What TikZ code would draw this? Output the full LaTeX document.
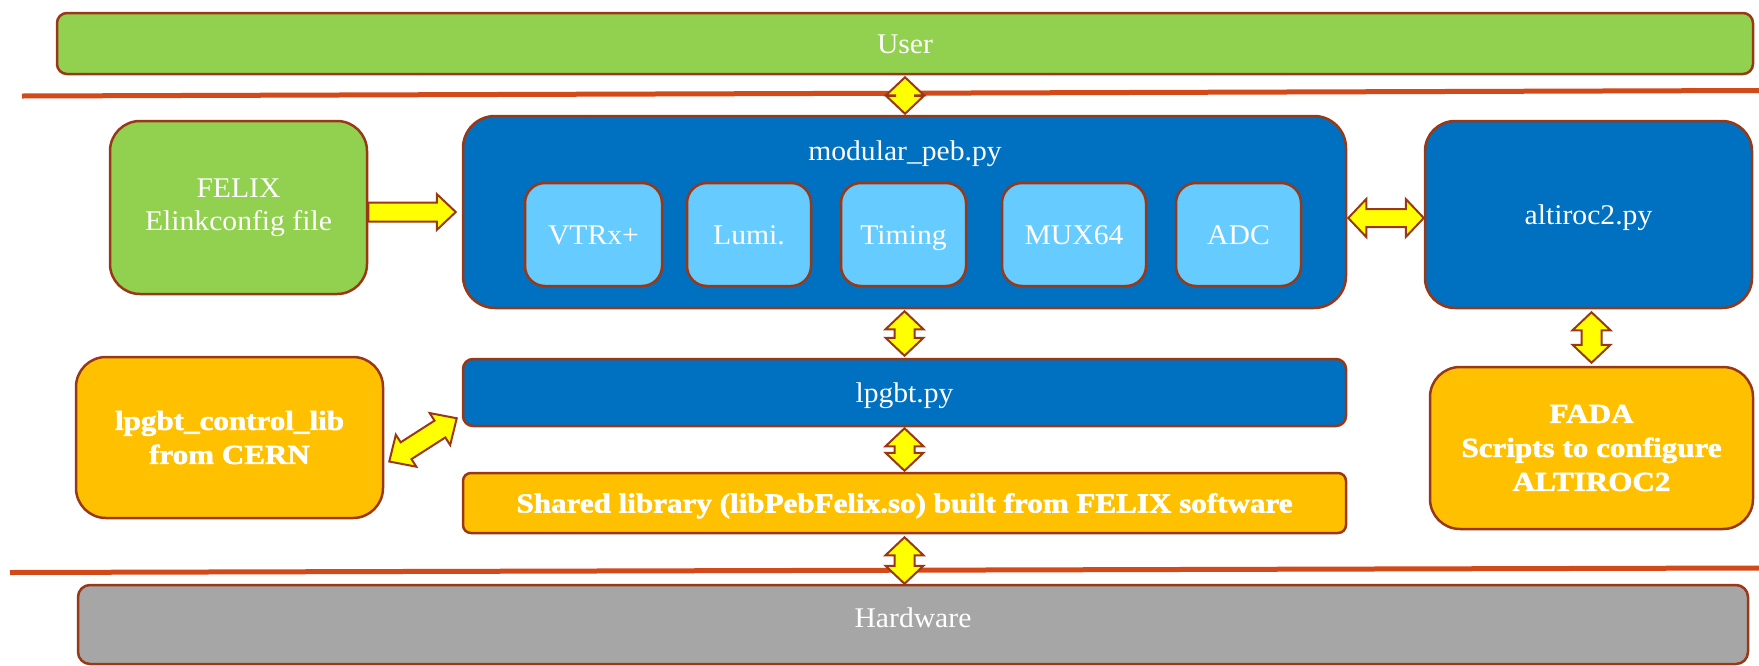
\documentclass[tikz,border=0pt]{standalone}
\usepackage{fontspec}
\setmainfont{Liberation Serif}[FakeStretch=1.04, BoldFeatures={FakeStretch=1.13, FakeBold=2}]
\usetikzlibrary{calc}
\definecolor{bord}{HTML}{993816}
\definecolor{sepc}{HTML}{D24A1A}
\definecolor{ugreen}{HTML}{92D050}
\definecolor{dblue}{HTML}{0070C0}
\definecolor{lblue}{HTML}{66CCFF}
\definecolor{gold}{HTML}{FFC000}
\definecolor{hgrey}{HTML}{A6A6A6}
\definecolor{ayel}{HTML}{FFFF00}
\tikzset{
  box/.style={draw=bord, line width=2.5pt, inner sep=0pt, text=white, align=center,
              font=\fontsize{28.5}{32.5}\selectfont},
  oneline/.style={text height=19pt, text depth=0pt},
  bbox/.style={box, font=\fontsize{27.5}{34}\selectfont\bfseries},
  inbox/.style={box, oneline, fill=lblue, rounded corners=20pt, minimum height=103pt},
  plain/.style={inner sep=0pt, oneline, text=white, font=\fontsize{28.5}{32.5}\selectfont},
  blockarr/.style={draw=bord, fill=ayel, line width=2pt, line join=miter},
  sepline/.style={draw=sepc, line width=5pt},
}
\newcommand\dblarrow[5]{%
  \draw[blockarr] let \p1=(#1), \p2=(#2), \n1={atan2(\y2-\y1,\x2-\x1)} in
  (\p1) -- ($(\p1)+(\n1:#3)+(\n1+90:#4)$) -- ($(\p1)+(\n1:#3)+(\n1+90:#5)$)
  -- ($(\p2)+(\n1+180:#3)+(\n1+90:#5)$) -- ($(\p2)+(\n1+180:#3)+(\n1+90:#4)$)
  -- (\p2) -- ($(\p2)+(\n1+180:#3)+(\n1-90:#4)$) -- ($(\p2)+(\n1+180:#3)+(\n1-90:#5)$)
  -- ($(\p1)+(\n1:#3)+(\n1-90:#5)$) -- ($(\p1)+(\n1:#3)+(\n1-90:#4)$) -- cycle;}
\newcommand\sglarrow[5]{%
  \draw[blockarr] let \p1=(#1), \p2=(#2), \n1={atan2(\y2-\y1,\x2-\x1)} in
  ($(\p1)+(\n1+90:#5)$) -- ($(\p2)+(\n1+180:#3)+(\n1+90:#5)$)
  -- ($(\p2)+(\n1+180:#3)+(\n1+90:#4)$) -- (\p2)
  -- ($(\p2)+(\n1+180:#3)+(\n1-90:#4)$) -- ($(\p2)+(\n1+180:#3)+(\n1-90:#5)$)
  -- ($(\p1)+(\n1-90:#5)$) -- cycle;}
\begin{document}
\begin{tikzpicture}[x=1pt, y=-1pt]
\useasboundingbox (0,0) rectangle (1759,665);
% separator lines
\draw[sepline] (22,96) -- (1759,90.5);
\draw[sepline] (10,572.5) -- (1759,568);
% boxes
\node[box, oneline, fill=ugreen, rounded corners=10pt, minimum width=1696pt, minimum height=61pt]
      (user) at (905,43.5) {User};
\node[box, fill=ugreen, rounded corners=30pt, minimum width=257pt, minimum height=173pt]
      (felix) at (238.5,207.5) {FELIX\\Elinkconfig file};
\node[box, fill=dblue, rounded corners=32pt, minimum width=883pt, minimum height=192pt]
      (mod) at (904.5,212) {};
\node[plain] (modt) at (905,151) {modular\_peb.py};
\node[inbox, minimum width=137pt] (vtrx) at (593.5,234.5) {VTRx+};
\node[inbox, minimum width=124pt] (lumi) at (749,234.5) {Lumi.};
\node[inbox, minimum width=125pt] (timing) at (903.5,234.5) {Timing};
\node[inbox, minimum width=144pt] (mux) at (1074,234.5) {MUX64};
\node[inbox, minimum width=125pt] (adc) at (1238.5,234.5) {ADC};
\node[box, oneline, fill=dblue, rounded corners=30pt, minimum width=327pt, minimum height=187pt]
      (alti) at (1588.5,214.5) {altiroc2.py};
\node[box, oneline, fill=dblue, rounded corners=10pt, minimum width=883pt, minimum height=67pt]
      (lpgbt) at (904.5,392.5) {lpgbt.py};
\node[bbox, fill=gold, rounded corners=30pt, minimum width=307pt, minimum height=161pt]
      (ctrl) at (229.5,437.5) {\raisebox{-4pt}{lpgbt\_control\_lib}\\\raisebox{-4pt}{from CERN}};
\node[bbox, oneline, fill=gold, rounded corners=8pt, minimum width=883pt, minimum height=60pt]
      (shared) at (904.5,503) {Shared library (libPebFelix.so) built from FELIX software};
\node[bbox, fill=gold, rounded corners=30pt, minimum width=323pt, minimum height=162pt]
      (fada) at (1591.5,448) {FADA\\Scripts to configure\\ALTIROC2};
\node[box, oneline, fill=hgrey, rounded corners=12pt, minimum width=1670pt, minimum height=79pt]
      (hw) at (913,624.5) {\raisebox{6.5pt}{Hardware}};
% block arrows
\sglarrow{felix.east |- mod.west}{$(mod.west)+(-6,0)$}{19pt}{18pt}{9.5pt}
\dblarrow{$(user.south)+(0,2)$}{$(user.south |- mod.north)+(0,-1)$}{18pt}{19pt}{10pt}
\dblarrow{$(mod.south)+(0,2)$}{$(mod.south |- lpgbt.north)+(0,-2)$}{18pt}{19pt}{10pt}
\dblarrow{$(lpgbt.south)+(0,1)$}{$(lpgbt.south |- shared.north)+(0,-1)$}{18pt}{19pt}{10pt}
\dblarrow{$(shared.south)+(0,3)$}{shared.south |- hw.north}{18pt}{19pt}{10pt}
\dblarrow{$(mod.east)+(1,6)$}{$(alti.west)+(0,3.5)$}{18pt}{19pt}{9pt}
\dblarrow{$(fada.north |- alti.south)+(0,3)$}{$(fada.north)+(0,-3)$}{18pt}{19pt}{10pt}
\dblarrow{$(ctrl.east)+(5,24)$}{$(lpgbt.south west)+(-5,-9)$}{20pt}{19pt}{10pt}
\end{tikzpicture}
\end{document}
